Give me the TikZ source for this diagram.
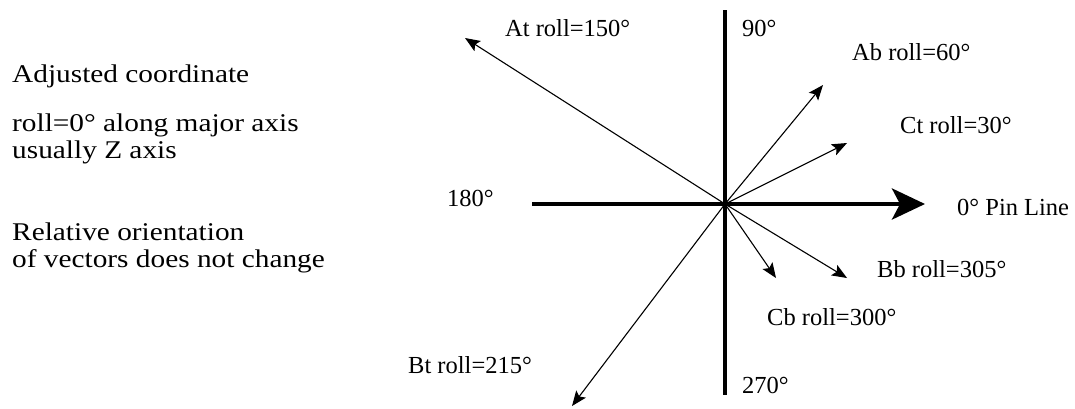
\documentclass[tikz,border=0pt]{standalone}
\usepackage{fontspec}
\setmainfont{Liberation Serif}
\newfontfamily\notefont[FakeStretch=1.15]{Liberation Serif}
\usepackage{tikz}
\usetikzlibrary{arrows.meta}

\begin{document}
\begin{tikzpicture}[
  x=1pt, y=-1pt,
  every node/.style={inner sep=0pt, anchor=base west},
  lbl/.style={font=\fontsize{24.5}{27}\selectfont},
  note/.style={font=\notefont\fontsize{25.5}{27}\selectfont, align=left},
  axis/.style={line width=4.5pt, color=black},
  pin/.style={axis, -{Stealth[length=33pt, width=31pt, inset=8pt]}},
  vec/.style={-{Stealth[length=15pt, width=12pt, inset=3pt]}, line width=1.1pt},
]
  \useasboundingbox (0,0) rectangle (1075,408);

  % axes
  \coordinate (o) at (725,204);
  \coordinate (top) at (725,10);
  \coordinate (bot) at (725,395);
  \coordinate (lft) at (532,204);
  \coordinate (rgt) at (925,204);
  \draw[axis] (top) -- (bot);
  \draw[pin] (lft) -- (rgt);

  % vector tips
  \coordinate (at) at (465,38);
  \coordinate (ab) at (823,85);
  \coordinate (ct) at (847,143);
  \coordinate (bb) at (847,278);
  \coordinate (cb) at (776,278);
  \coordinate (bt) at (572,406);
  \foreach \t in {at,ab,ct,bb,cb,bt}
    \draw[vec] (o) -- (\t);

  % labels
  \node[lbl] (lat) at (505,36) {At roll=150°};
  \node[lbl] (l90) at (742,36) {90°};
  \node[lbl] (lab) at (852,60) {Ab roll=60°};
  \node[lbl] (lct) at (900,133) {Ct roll=30°};
  \node[lbl] (l180) at (447,206) {180°};
  \node[lbl] (l0) at (957,215) {0° Pin Line};
  \node[lbl] (lbb) at (877,277) {Bb roll=305°};
  \node[lbl] (lcb) at (767,325) {Cb roll=300°};
  \node[lbl] (lbt) at (408,373) {Bt roll=215°};
  \node[lbl] (l270) at (742,393) {270°};

  % notes on the left (base = last line)
  \node[note] (adj) at (12,82) {Adjusted coordinate};
  \node[note] (rol) at (12,158) {roll=0° along major axis\\usually Z axis};
  \node[note] (rel) at (12,267) {Relative orientation\\of vectors does not change};
\end{tikzpicture}
\end{document}
